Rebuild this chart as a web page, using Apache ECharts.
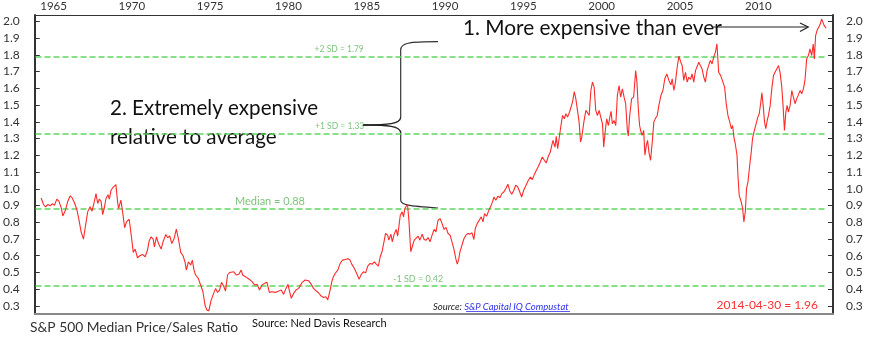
<!DOCTYPE html>
<html><head><meta charset="utf-8">
<script src="https://cdn.jsdelivr.net/npm/echarts@6/dist/echarts.min.js"></script>
<style>html,body{margin:0;padding:0;background:#fff}#c{width:880px;height:341px}</style>
</head><body><div id="c"></div>
<script>
// ---- data (decimal years, ratio values) ----
const dates = [
1964.21,1964.36,1964.49,1964.64,1964.79,1964.91,
1965.06,1965.21,1965.34,1965.49,1965.59,1965.76,1965.91,
1966.06,1966.19,1966.33,1966.48,1966.61,1966.76,1966.91,
1967.03,1967.18,1967.33,1967.46,1967.61,1967.71,1967.82,1967.92,
1968.03,1968.14,1968.24,1968.35,1968.48,1968.56,1968.67,1968.77,1968.88,1968.98,
1969.09,1969.15,1969.30,1969.41,1969.54,1969.66,1969.83,1969.96,
1970.09,1970.21,1970.36,1970.51,1970.68,1970.85,
1971.00,1971.10,1971.23,1971.36,1971.44,1971.57,1971.70,1971.87,1971.99,
1972.17,1972.29,1972.42,1972.55,1972.70,1972.84,1972.97,
1973.12,1973.27,1973.40,1973.48,1973.61,1973.76,1973.86,1973.97,
1974.07,1974.24,1974.39,1974.54,1974.67,1974.79,1974.92,
1975.05,1975.18,1975.35,1975.47,1975.60,1975.73,1975.88,1975.98,
1976.11,1976.24,1976.36,1976.51,1976.66,1976.83,1976.98,
1977.08,1977.25,1977.47,1977.68,1977.85,
1978.00,1978.15,1978.31,1978.48,1978.63,1978.78,1978.95,
1979.16,1979.38,1979.54,1979.69,1979.84,1979.97,
1980.05,1980.18,1980.33,1980.48,1980.65,
1980.86,1981.07,1981.28,1981.45,1981.60,1981.75,1981.92,
1982.09,1982.24,1982.39,1982.51,1982.66,1982.77,1982.87,1982.98,
1983.15,1983.30,1983.45,1983.62,1983.79,1983.93,
1984.04,1984.21,1984.36,1984.51,1984.63,1984.78,1984.93,
1985.06,1985.21,1985.35,1985.48,1985.61,1985.74,1985.86,1985.99,
1986.12,1986.20,1986.33,1986.41,1986.54,1986.63,1986.75,1986.88,1986.97,
1987.05,1987.14,1987.26,1987.35,1987.43,1987.52,1987.60,1987.69,1987.81,1987.90,
1988.03,1988.15,1988.28,1988.39,1988.54,1988.66,1988.79,1988.92,
1989.04,1989.17,1989.30,1989.42,1989.55,1989.68,1989.81,1989.93,
1990.06,1990.19,1990.32,1990.44,1990.57,1990.68,1990.78,1990.87,1990.95,
1991.08,1991.21,1991.33,1991.46,1991.59,1991.72,1991.84,1991.93,
1992.05,1992.18,1992.31,1992.42,1992.52,1992.65,1992.78,1992.90,
1993.03,1993.12,1993.24,1993.37,1993.50,1993.62,1993.75,1993.88,
1994.01,1994.13,1994.26,1994.39,1994.51,1994.64,1994.77,1994.89,
1995.02,1995.17,1995.32,1995.45,1995.57,1995.70,1995.83,1995.96,
1996.08,1996.21,1996.34,1996.46,1996.59,1996.72,1996.80,1996.89,
1997.02,1997.10,1997.19,1997.29,1997.40,1997.50,1997.61,1997.72,1997.82,1997.93,
1998.03,1998.14,1998.25,1998.35,1998.46,1998.56,1998.65,1998.73,1998.86,1998.99,
1999.09,1999.20,1999.31,1999.41,1999.52,1999.62,1999.73,1999.84,1999.94,
2000.05,2000.13,2000.22,2000.32,2000.43,2000.52,2000.60,2000.68,2000.79,2000.90,
2001.00,2001.11,2001.21,2001.32,2001.43,2001.53,2001.64,2001.70,2001.79,2001.91,
2002.04,2002.17,2002.25,2002.34,2002.42,2002.51,2002.59,2002.68,2002.76,2002.85,2002.93,
2003.02,2003.12,2003.23,2003.33,2003.44,2003.55,2003.65,2003.78,2003.91,
2004.03,2004.16,2004.29,2004.42,2004.50,2004.61,2004.71,2004.82,2004.93,
2005.05,2005.14,2005.24,2005.35,2005.46,2005.56,2005.67,2005.77,2005.88,2005.99,
2006.09,2006.20,2006.30,2006.41,2006.52,2006.62,2006.73,2006.83,2006.94,
2007.05,2007.15,2007.26,2007.36,2007.47,2007.60,2007.72,2007.85,2007.94,
2008.06,2008.15,2008.28,2008.36,2008.45,2008.53,2008.64,2008.70,2008.78,2008.91,
2009.00,2009.08,2009.17,2009.25,2009.34,2009.44,2009.55,2009.63,2009.72,2009.80,2009.89,2009.97,
2010.06,2010.14,2010.23,2010.31,2010.40,2010.48,2010.57,2010.65,2010.76,2010.86,2010.97,
2011.07,2011.18,2011.29,2011.39,2011.50,2011.58,2011.67,2011.76,2011.84,2011.92,
2012.03,2012.14,2012.24,2012.35,2012.45,2012.56,2012.67,2012.77,2012.88,2012.98,
2013.09,2013.20,2013.30,2013.41,2013.51,2013.58,2013.66,2013.75,2013.87,2013.96,
2014.04,2014.13,2014.21,2014.33
];
const ratio = [
0.945,0.906,0.892,0.906,0.898,0.910,
0.902,0.938,0.926,0.886,0.838,0.872,0.926,
0.957,0.945,0.918,0.878,0.822,0.743,0.699,
0.773,0.862,0.892,0.866,0.926,0.971,0.912,0.938,
0.926,0.846,0.886,0.942,0.965,0.938,0.991,1.005,1.011,1.025,
0.922,0.882,0.932,0.862,0.767,0.802,0.818,0.723,
0.620,0.640,0.588,0.600,0.608,0.594,
0.634,0.687,0.713,0.699,0.653,0.713,0.673,0.640,0.683,
0.727,0.707,0.719,0.673,0.703,0.759,0.703,
0.620,0.600,0.560,0.514,0.564,0.544,0.574,0.514,
0.485,0.465,0.425,0.385,0.306,0.275,0.272,
0.330,0.365,0.405,0.381,0.395,0.441,0.415,0.389,
0.485,0.500,0.489,0.504,0.485,0.489,0.514,
0.485,0.475,0.461,0.445,0.425,
0.429,0.395,0.425,0.435,0.441,0.381,0.385,
0.381,0.389,0.395,0.369,0.405,0.429,
0.395,0.346,0.375,0.395,0.405,
0.439,0.455,0.451,0.431,0.405,0.391,0.379,
0.359,0.351,0.355,0.336,0.395,0.445,0.475,0.494,
0.514,0.554,0.574,0.578,0.582,0.574,
0.550,0.524,0.494,0.459,0.485,0.504,0.498,
0.538,0.554,0.550,0.564,0.550,0.538,0.594,0.630,
0.693,0.733,0.723,0.693,0.729,0.683,0.729,0.757,0.717,
0.773,0.842,0.862,0.832,0.882,0.892,0.908,0.812,0.624,0.653,
0.693,0.703,0.717,0.693,0.729,0.697,0.693,0.709,
0.683,0.723,0.757,0.743,0.812,0.822,0.792,0.757,
0.769,0.733,0.723,0.683,0.638,0.584,0.550,0.578,0.624,
0.663,0.703,0.723,0.733,0.729,0.737,0.697,0.763,
0.792,0.812,0.832,0.802,0.852,0.836,0.868,0.892,
0.922,0.951,0.931,0.955,0.947,0.971,0.981,1.001,
1.027,0.987,0.967,0.991,1.021,1.011,0.981,0.951,
0.991,1.021,1.051,1.070,1.055,1.086,1.110,1.134,
1.160,1.190,1.170,1.154,1.194,1.219,1.253,1.289,
1.249,1.313,1.239,1.249,1.378,1.438,1.418,1.448,1.428,1.454,
1.458,1.518,1.581,1.537,1.527,1.398,1.279,1.309,1.398,1.468,
1.458,1.438,1.587,1.637,1.607,1.468,1.438,1.468,1.428,
1.388,1.249,1.339,1.418,1.378,1.428,1.462,1.388,1.408,1.378,
1.557,1.617,1.547,1.597,1.547,1.508,1.349,1.315,1.438,1.537,
1.547,1.706,1.637,1.478,1.378,1.339,1.319,1.349,1.200,1.259,1.289,
1.216,1.170,1.279,1.398,1.422,1.438,1.498,1.557,1.587,
1.657,1.686,1.647,1.621,1.657,1.587,1.637,1.726,1.792,
1.756,1.736,1.647,1.696,1.637,1.666,1.653,1.686,1.637,1.706,
1.716,1.756,1.760,1.716,1.666,1.637,1.706,1.736,1.766,
1.746,1.786,1.815,1.865,1.696,1.676,1.680,1.607,1.518,
1.438,1.408,1.359,1.378,1.303,1.269,1.200,1.080,0.961,0.922,
0.882,0.802,0.862,1.001,1.041,1.130,1.219,1.299,1.339,1.349,1.398,1.428,
1.448,1.502,1.573,1.498,1.398,1.359,1.408,1.438,1.498,1.597,1.676,
1.696,1.716,1.736,1.696,1.607,1.498,1.349,1.458,1.498,1.458,
1.498,1.587,1.547,1.508,1.537,1.561,1.587,1.567,1.597,1.647,
1.776,1.796,1.835,1.796,1.865,1.776,1.915,1.945,1.939,1.984,
2.014,1.994,1.974,1.960
];
const yearTicks = [1965,1970,1975,1980,1985,1990,1995,2000,2005,2010];
const yTicks = [0.3,0.4,0.5,0.6,0.7,0.8,0.9,1.0,1.1,1.2,1.3,1.4,1.5,1.6,1.7,1.8,1.9,2.0];
const sdLevels = [1.79, 1.33, 0.88, 0.42];
const sdLabels = ['+2 SD = 1.79', '+1 SD = 1.33', 'Median = 0.88', '-1 SD = 0.42'];
const sdLabelYears = [1983.24, 1983.27, 1978.82, 1988.28];
const lastLabel = '2014-04-30 = 1.96';

// ---- chart ----
const FONT = 'Lato, "Open Sans", sans-serif';
const X_MIN = 1963.8, X_MAX = 2014.77, Y_MIN = 0.252, Y_MAX = 2.038;
const lineData = dates.map((d, i) => [d, ratio[i]]);
const lastYear = dates[dates.length - 1];
const GREEN = '#5fd65f';
const LABEL_GREEN = '#5cb35c';

function yAxisCfg(pos, margin) {
  return {
    type: 'value', position: pos, min: Y_MIN, max: Y_MAX,
    axisLine: { show: true, onZero: false, lineStyle: { color: '#333', width: 2 } },
    axisTick: { show: true, inside: true, length: 5, customValues: yTicks, lineStyle: { color: '#333', width: 1 } },
    axisLabel: { customValues: yTicks, formatter: v => v.toFixed(1), color: '#333', fontSize: 12, fontFamily: FONT, margin: margin },
    splitLine: { show: false }
  };
}

const sdStyles = [
  { fontSize: 8.5, distance: 3 },
  { fontSize: 8.5, distance: 3 },
  { fontSize: 11, distance: 1.5 },
  { fontSize: 9, distance: 2 }
];

const chart = echarts.init(document.getElementById('c'));
chart.setOption({
  animation: false,
  backgroundColor: '#fff',
  grid: { left: 32, right: 47, top: 14.3, bottom: 27 },
  xAxis: [
    { type: 'value', position: 'top', min: X_MIN, max: X_MAX,
      axisLine: { show: true, onZero: false, lineStyle: { color: '#333', width: 1.2 } },
      axisTick: { show: false }, splitLine: { show: false },
      axisLabel: { customValues: yearTicks, formatter: v => String(v), color: '#333', fontSize: 11.5, fontFamily: FONT, margin: 3 } },
    { type: 'value', position: 'bottom', min: X_MIN, max: X_MAX,
      axisLine: { show: true, onZero: false, lineStyle: { color: '#8a8a8a', width: 2 } },
      axisTick: { show: false }, axisLabel: { show: false }, splitLine: { show: false } }
  ],
  yAxis: [ yAxisCfg('left', 15), yAxisCfg('right', 13) ],
  series: [
    { type: 'line', xAxisIndex: 0, yAxisIndex: 0, data: lineData, showSymbol: false, symbol: 'none',
      lineStyle: { color: '#ff2b2b', width: 1.1 }, z: 5,
      markLine: { silent: true, symbol: ['none', 'none'], label: { show: false },
        lineStyle: { color: GREEN, type: [6, 3], width: 1.5 },
        data: sdLevels.map(v => [{ coord: [X_MIN + 0.05, v] }, { coord: [lastYear, v] }]) } },
    { type: 'scatter', xAxisIndex: 0, yAxisIndex: 0, symbolSize: 0, silent: true, z: 6,
      data: sdLevels.map((v, i) => ({ value: [sdLabelYears[i], v],
        label: { show: true, position: 'top', formatter: sdLabels[i], color: LABEL_GREEN, fontFamily: FONT,
          fontSize: sdStyles[i].fontSize, distance: sdStyles[i].distance } })) }
  ],
  graphic: [
    // annotation 2
    { type: 'text', x: 110, y: 108, style: { text: '2. Extremely expensive', fill: '#111', font: '20.6px ' + FONT, align: 'left', verticalAlign: 'middle' } },
    { type: 'text', x: 110, y: 137, style: { text: 'relative to average', fill: '#111', font: '20.6px ' + FONT, align: 'left', verticalAlign: 'middle' } },
    // annotation 1
    { type: 'text', x: 463, y: 28.5, style: { text: '1. More expensive than ever', fill: '#111', font: '20.8px ' + FONT, align: 'left', verticalAlign: 'middle' } },
    // arrow
    { type: 'line', shape: { x1: 713, y1: 27, x2: 808, y2: 27 }, style: { stroke: '#222', lineWidth: 1.2 } },
    { type: 'polyline', shape: { points: [[800, 23], [808.3, 27], [800, 31.5]] }, style: { stroke: '#222', lineWidth: 1.2, fill: null } },
    // bracket
    { type: 'bezierCurve', shape: { x1: 438, y1: 41.7, cpx1: 408, cpy1: 41.7, cpx2: 400.7, cpy2: 43, x2: 400.7, y2: 50 }, style: { stroke: '#333', lineWidth: 1.2, fill: null } },
    { type: 'line', shape: { x1: 400.7, y1: 50, x2: 400.7, y2: 117 }, style: { stroke: '#333', lineWidth: 1.2 } },
    { type: 'bezierCurve', shape: { x1: 400.7, y1: 117, cpx1: 400.7, cpy1: 124, cpx2: 388, cpy2: 125, x2: 363, y2: 125 }, style: { stroke: '#222', lineWidth: 1.3, fill: null } },
    { type: 'bezierCurve', shape: { x1: 363, y1: 125, cpx1: 388, cpy1: 125, cpx2: 400.7, cpy2: 126, x2: 400.7, y2: 133 }, style: { stroke: '#222', lineWidth: 1.3, fill: null } },
    { type: 'line', shape: { x1: 400.7, y1: 133, x2: 400.7, y2: 200 }, style: { stroke: '#333', lineWidth: 1.2 } },
    { type: 'bezierCurve', shape: { x1: 400.7, y1: 200, cpx1: 400.7, cpy1: 205, cpx2: 408, cpy2: 206, x2: 438, y2: 208 }, style: { stroke: '#333', lineWidth: 1.2, fill: null } },
    // source inside plot
    { type: 'text', x: 433, y: 306.7, style: { text: '{a|Source: }{b|S&P Capital IQ Compustat}', align: 'left', verticalAlign: 'middle',
        rich: { a: { fill: '#222', fontStyle: 'italic', fontSize: 9.5, fontFamily: FONT }, b: { fill: '#3030ee', fontStyle: 'italic', fontSize: 9.5, fontFamily: FONT } } } },
    { type: 'line', shape: { x1: 466, y1: 311.5, x2: 570, y2: 311.5 }, style: { stroke: '#3030ee', lineWidth: 0.8 } },
    // last value label
    { type: 'text', x: 818, y: 305, style: { text: lastLabel, fill: '#ff3030', font: '12px ' + FONT, align: 'right', verticalAlign: 'middle' } },
    // bottom titles
    { type: 'text', x: 30, y: 328, style: { text: 'S&P 500 Median Price/Sales Ratio', fill: '#333', font: '13.8px ' + FONT, align: 'left', verticalAlign: 'middle' } },
    { type: 'text', x: 252, y: 323, style: { text: 'Source: Ned Davis Research', fill: '#111', font: '11px ' + FONT, align: 'left', verticalAlign: 'middle' } }
  ]
});
</script>
</body></html>
